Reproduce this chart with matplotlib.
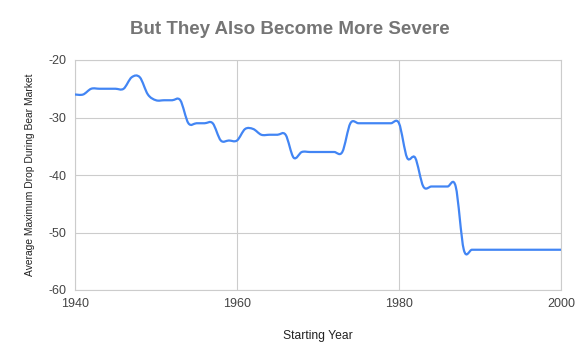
import matplotlib.pyplot as plt
from matplotlib.path import Path
from matplotlib.patches import PathPatch

years = list(range(1940, 2001))
avg_max_drop = [
    -26, -26, -25, -25, -25, -25, -25, -23, -23, -26,   # 1940-1949
    -27, -27, -27, -27, -31, -31, -31, -31, -34, -34,   # 1950-1959
    -34, -32, -32, -33, -33, -33, -33, -37, -36, -36,   # 1960-1969
    -36, -36, -36, -36, -31, -31, -31, -31, -31, -31,   # 1970-1979
    -31, -37, -37, -42, -42, -42, -42, -42, -53, -53,   # 1980-1989
    -53, -53, -53, -53, -53, -53, -53, -53, -53, -53,   # 1990-1999
    -53,                                                # 2000
]

x_ticks = [1940, 1960, 1980, 2000]
y_ticks = [-60, -50, -40, -30, -20]


def smooth_path(xs, ys):
    # Catmull-Rom style curve as cubic bezier segments (like the sheets chart)
    pts = list(zip(xs, ys))
    verts = [pts[0]]
    codes = [Path.MOVETO]
    n = len(pts)
    for i in range(n - 1):
        p0 = pts[max(i - 1, 0)]
        p1 = pts[i]
        p2 = pts[i + 1]
        p3 = pts[min(i + 2, n - 1)]
        c1 = (p1[0] + (p2[0] - p0[0]) / 6, p1[1] + (p2[1] - p0[1]) / 6)
        c2 = (p2[0] - (p3[0] - p1[0]) / 6, p2[1] - (p3[1] - p1[1]) / 6)
        verts += [c1, c2, p2]
        codes += [Path.CURVE4] * 3
    return Path(verts, codes)


plt.rcParams['font.family'] = ['Liberation Sans', 'DejaVu Sans']
plt.rcParams['axes.unicode_minus'] = False

fig = plt.figure(figsize=(5.8, 3.59), dpi=100)
ax = fig.add_axes([75 / 580, 1 - 290 / 359, 486 / 580, 230 / 359])

line = PathPatch(smooth_path(years, avg_max_drop), facecolor='none',
                 edgecolor='#4285f4', linewidth=1.6, capstyle='round',
                 joinstyle='round', zorder=3)
ax.add_patch(line)

ax.set_xlim(1940, 2000)
ax.set_ylim(-60, -20)
ax.set_xticks(x_ticks)
ax.set_yticks(y_ticks)
ax.grid(True, color='#cccccc', linewidth=0.8)
ax.set_axisbelow(True)
for s in ax.spines.values():
    s.set_color('#cccccc')
    s.set_linewidth(0.8)
ax.tick_params(length=0, labelsize=9, labelcolor='#444444')
ax.tick_params(axis='x', pad=6)
ax.tick_params(axis='y', pad=6)

ax.set_xlabel('Starting Year', fontsize=8.7, color='#222222', labelpad=14)
ax.set_ylabel('Average Maximum Drop During Bear Market', fontsize=7.4,
              color='#222222', labelpad=10)
fig.text(0.5, 1 - 30 / 359, 'But They Also Become More Severe', ha='center',
         va='center', fontsize=13.5, fontweight='bold', color='#757575')

fig.savefig('out.png', dpi=100)
